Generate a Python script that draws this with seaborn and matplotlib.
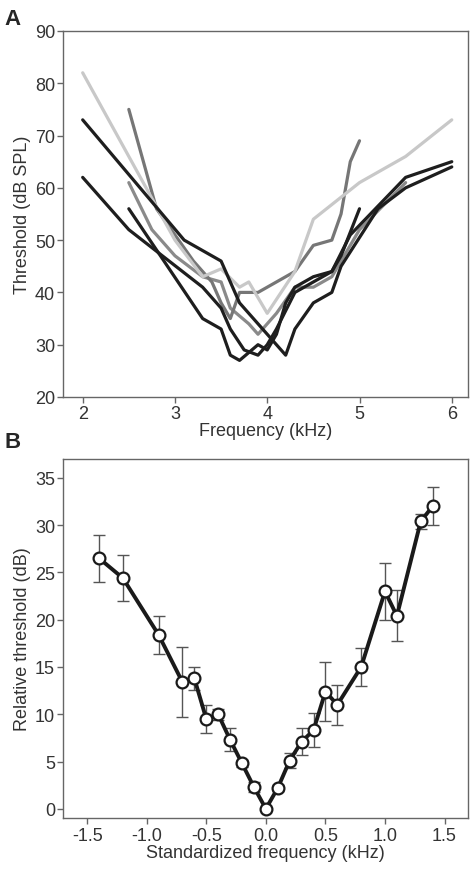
import numpy as np
import pandas as pd
import matplotlib
matplotlib.use('Agg')
import matplotlib.pyplot as plt
import seaborn as sns

# Panel A: individual tuning curves (frequency in kHz, threshold in dB SPL)
light_f = [2.0, 3.0, 3.3, 3.5, 3.7, 3.8, 4.0, 4.3, 4.5, 5.0, 5.5, 6.0]
light_db = [82, 50, 43, 44.5, 41, 42, 36, 44, 54, 61, 66, 73]

grey1_f = [2.5, 2.8, 3.0, 3.2, 3.4, 3.5, 3.6, 3.7, 3.9, 4.1, 4.3, 4.5, 4.7, 4.8, 4.9, 5.0]
grey1_db = [75, 56, 51, 46, 42, 38, 35, 40, 40, 42, 44, 49, 50, 55, 65, 69]

grey2_f = [2.5, 2.75, 3.0, 3.3, 3.5, 3.6, 3.8, 3.9, 4.0, 4.1, 4.3, 4.5, 4.7, 5.0, 5.5]
grey2_db = [61, 52, 47, 43, 42, 37, 34, 32, 34, 36, 41, 41, 43, 52, 61]

black1_f = [2.0, 3.1, 3.5, 3.7, 3.9, 4.0, 4.2, 4.3, 4.5, 4.7, 4.8, 5.2, 5.5, 6.0]
black1_db = [73, 50, 46, 38, 34, 32, 28, 33, 38, 40, 45, 56, 60, 64]

black2_f = [2.0, 2.5, 3.3, 3.5, 3.6, 3.75, 3.9, 4.0, 4.1, 4.3, 4.5, 4.7, 4.9, 5.5, 6.0]
black2_db = [62, 52, 41, 37, 33, 29, 28, 30, 33, 40, 42, 44, 51, 62, 65]

black3_f = [2.5, 3.3, 3.5, 3.6, 3.7, 3.8, 3.9, 4.0, 4.1, 4.2, 4.3, 4.5, 4.7, 4.8, 5.0]
black3_db = [56, 35, 33, 28, 27, 28.5, 30, 29, 32, 38, 41, 43, 44, 47, 56]

# Panel B: mean relative threshold with error bars
std_freq = [-1.4, -1.2, -0.9, -0.7, -0.6, -0.5, -0.4, -0.3, -0.2, -0.1, 0.0,
            0.1, 0.2, 0.3, 0.4, 0.5, 0.6, 0.8, 1.0, 1.1, 1.3, 1.4]
rel_thr = [26.5, 24.4, 18.4, 13.4, 13.8, 9.5, 10.0, 7.3, 4.8, 2.3, 0.0,
           2.2, 5.1, 7.1, 8.3, 12.4, 11.0, 15.0, 23.0, 20.4, 30.4, 32.0]
rel_err = [2.5, 2.4, 2.0, 3.7, 1.2, 1.5, 0.6, 1.2, 0.4, 0.5, 0.0,
           0.3, 0.8, 1.4, 1.8, 3.1, 2.1, 2.0, 3.0, 2.7, 0.8, 2.0]

sns.set_style('white')
plt.rcParams['font.family'] = ['Liberation Sans', 'DejaVu Sans']
plt.rcParams['axes.unicode_minus'] = False
txt = '#333333'
spine = '#666666'
fs = 13

fig = plt.figure(figsize=(4.76, 8.78), dpi=100)
axA = fig.add_axes([0.133, 0.5467, 0.851, 0.4169])
axB = fig.add_axes([0.133, 0.0669, 0.851, 0.4092])

curves = [
    ('grey2', grey2_f, grey2_db, '#8a8a8a'),
    ('grey1', grey1_f, grey1_db, '#767676'),
    ('light', light_f, light_db, '#c8c8c8'),
    ('black3', black3_f, black3_db, '#1e1e1e'),
    ('black2', black2_f, black2_db, '#1e1e1e'),
    ('black1', black1_f, black1_db, '#1e1e1e'),
]
frames = []
for name, f, db, _ in curves:
    frames.append(pd.DataFrame({'freq': f, 'thr': db, 'unit': name}))
dfA = pd.concat(frames, ignore_index=True)
pal = {name: c for name, _, _, c in curves}
sns.lineplot(data=dfA, x='freq', y='thr', hue='unit', palette=pal,
             hue_order=[c[0] for c in curves], units='unit', estimator=None,
             sort=False, linewidth=2.3, legend=False, ax=axA)

axA.set_xlim(1.79, 6.18)
axA.set_ylim(20, 90)
axA.set_xticks([2, 3, 4, 5, 6])
axA.set_yticks(np.arange(20, 91, 10))
axA.set_xlabel('Frequency (kHz)', fontsize=fs, color=txt, labelpad=0)
axA.set_ylabel('Threshold (dB SPL)', fontsize=fs, color=txt, labelpad=3)

dfB = pd.DataFrame({'f': std_freq, 't': rel_thr})
axB.errorbar(std_freq, rel_thr, yerr=rel_err, fmt='none', ecolor='#555555',
             elinewidth=1.0, capsize=4, capthick=1.0, zorder=1)
sns.lineplot(data=dfB, x='f', y='t', color='#1a1a1a', linewidth=2.8,
             marker='o', markersize=8.5, markerfacecolor='white',
             markeredgecolor='#1a1a1a', markeredgewidth=1.6, sort=False,
             ax=axB, zorder=3)
axB.set_xlim(-1.7, 1.7)
axB.set_ylim(-1, 37)
axB.set_xticks([-1.5, -1.0, -0.5, 0.0, 0.5, 1.0, 1.5])
axB.set_xticklabels(['-1.5', '-1.0', '-0.5', '0.0', '0.5', '1.0', '1.5'])
axB.set_yticks(np.arange(0, 36, 5))
axB.set_xlabel('Standardized frequency (kHz)', fontsize=fs, color=txt, labelpad=0)
axB.set_ylabel('Relative threshold (dB)', fontsize=fs, color=txt, labelpad=3)

for ax in (axA, axB):
    for s in ax.spines.values():
        s.set_color(spine)
        s.set_linewidth(1.0)
    ax.tick_params(direction='out', length=4, width=1, color=spine,
                   labelsize=fs, labelcolor=txt, pad=2,
                   bottom=True, left=True)

fig.text(0.01, 0.99, 'A', fontsize=16, fontweight='bold', va='top', ha='left')
fig.text(0.01, 0.508, 'B', fontsize=16, fontweight='bold', va='top', ha='left')

fig.savefig('out.png', dpi=100)
